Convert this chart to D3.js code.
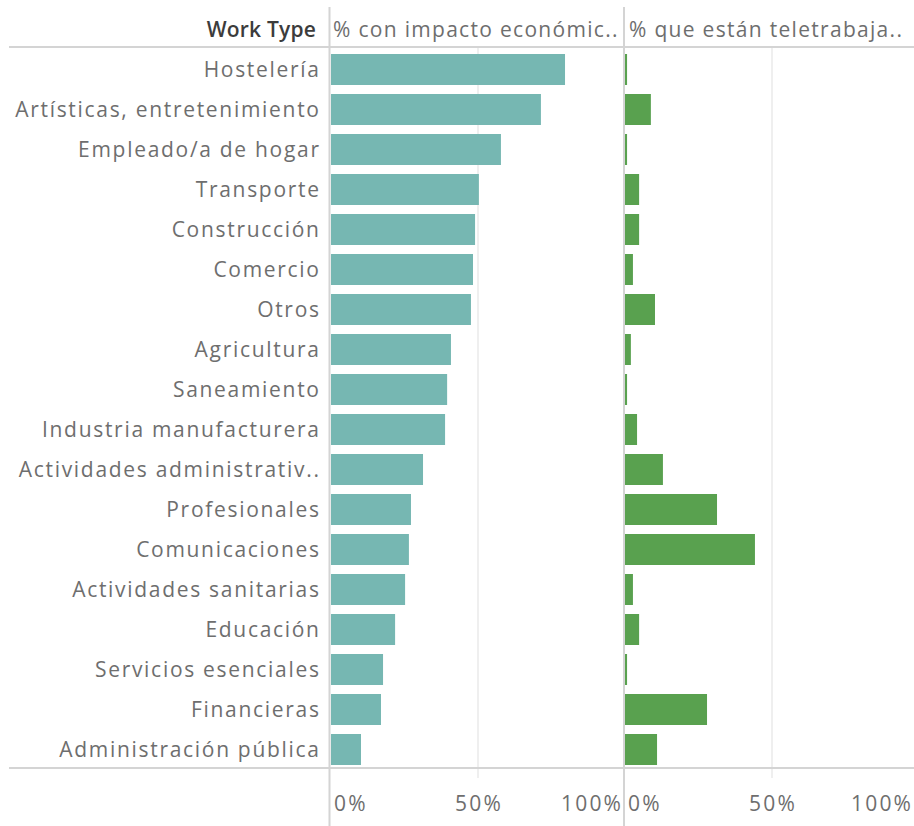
<!DOCTYPE html>
<html>
<head>
<meta charset="utf-8">
<script src="https://cdn.jsdelivr.net/npm/d3@7"></script>
<style>
  html, body { margin: 0; padding: 0; background: #fff; }
  svg { display: block; }
  text { font-family: "Open Sans", "Lato", sans-serif; }
</style>
</head>
<body>
<svg id="chart" width="914" height="826"></svg>
<script>
const categories = [
  "Hostelería",
  "Artísticas, entretenimiento",
  "Empleado/a de hogar",
  "Transporte",
  "Construcción",
  "Comercio",
  "Otros",
  "Agricultura",
  "Saneamiento",
  "Industria manufacturera",
  "Actividades administrativ..",
  "Profesionales",
  "Comunicaciones",
  "Actividades sanitarias",
  "Educación",
  "Servicios esenciales",
  "Financieras",
  "Administración pública"
];
const impactoEconomico = [79.6, 71.4, 57.8, 50.3, 49.0, 48.3, 47.6, 40.8, 39.5, 38.8, 31.3, 27.2, 26.5, 25.2, 21.8, 17.7, 17.0, 10.2];
const teletrabajo = [0.7, 8.8, 0.7, 4.8, 4.8, 2.7, 10.2, 2.0, 0.7, 4.1, 12.9, 31.3, 44.2, 2.7, 4.8, 0.7, 27.9, 10.9];
const headers = ["Work Type", "% con impacto económic..", "% que están teletrabaja.."];
const tickValues = [0, 50, 100];
const tickLabels = ["0%", "50%", "100%"];

(function () {
const svg = d3.select("#chart");
const W = 914, H = 826;
const yTop = 48, yBottom = 768;
const p1 = [331, 625], p2 = [625, 919];
const lineColor = "#d4d4d4", gridColor = "#efefef", textColor = "#6e6e6e";
const fs = 21;
const lsLabel = 1.7, lsHead = 1.3, lsTick = 2.2;

const y = d3.scaleBand().domain(categories).range([yTop + 1.5, yBottom + 1.5]).paddingInner(0.225).paddingOuter(0.1125);
const x1 = d3.scaleLinear().domain([0, 100]).range(p1);
const x2 = d3.scaleLinear().domain([0, 100]).range(p2);

[x1, x2].forEach(x => {
  svg.append("line").attr("x1", x(50)).attr("x2", x(50)).attr("y1", yTop).attr("y2", yBottom + 10)
    .attr("stroke", gridColor).attr("stroke-width", 2);
});

function drawBars(x, vals, color) {
  svg.append("g").selectAll("rect").data(categories).join("rect")
    .attr("x", x(0))
    .attr("y", d => y(d))
    .attr("width", (d, i) => x(vals[i]) - x(0))
    .attr("height", y.bandwidth())
    .attr("fill", color);
}
drawBars(x1, impactoEconomico, "#76b7b2");
drawBars(x2, teletrabajo, "#59a14f");

svg.append("line").attr("x1", 9).attr("x2", W).attr("y1", yTop - 1).attr("y2", yTop - 1).attr("stroke", lineColor).attr("stroke-width", 2);
svg.append("line").attr("x1", 9).attr("x2", W).attr("y1", yBottom).attr("y2", yBottom).attr("stroke", lineColor).attr("stroke-width", 2);
[329.5, 624].forEach(xx => {
  svg.append("line").attr("x1", xx).attr("x2", xx).attr("y1", 7).attr("y2", H).attr("stroke", lineColor).attr("stroke-width", 2);
});

svg.append("g").selectAll("text").data(categories).join("text")
  .attr("x", 319 + lsLabel)
  .attr("y", d => y(d) + y.bandwidth() / 2 + 7.5)
  .attr("text-anchor", "end")
  .attr("font-size", fs)
  .attr("letter-spacing", lsLabel)
  .attr("fill", textColor)
  .text(d => d);

svg.append("text").attr("x", 316).attr("y", 37).attr("text-anchor", "end").attr("font-size", fs)
  .attr("font-weight", 600).attr("letter-spacing", 0.2).attr("fill", "#3c3c3c").text(headers[0]);
svg.append("text").attr("x", 333).attr("y", 37).attr("font-size", fs).attr("letter-spacing", lsHead)
  .attr("fill", textColor).text(headers[1]);
svg.append("text").attr("x", 629).attr("y", 37).attr("font-size", fs).attr("letter-spacing", lsHead)
  .attr("fill", textColor).text(headers[2]);

function drawTicks(x, left, right) {
  const g = svg.append("g");
  tickValues.forEach((v, i) => {
    let px = x(v), anchor = "middle";
    if (i === 0) { px = x(v) + 3; anchor = "start"; }
    else if (px > right - 30) { px = right - 3 + lsTick; anchor = "end"; }
    else { px = px + lsTick / 2; }
    g.append("text").attr("x", px).attr("y", 811).attr("text-anchor", anchor)
      .attr("font-size", fs).attr("letter-spacing", lsTick).attr("fill", textColor).text(tickLabels[i]);
  });
}
drawTicks(x1, 329, 624);
drawTicks(x2, 624, 914);
})();
</script>
</body>
</html>
